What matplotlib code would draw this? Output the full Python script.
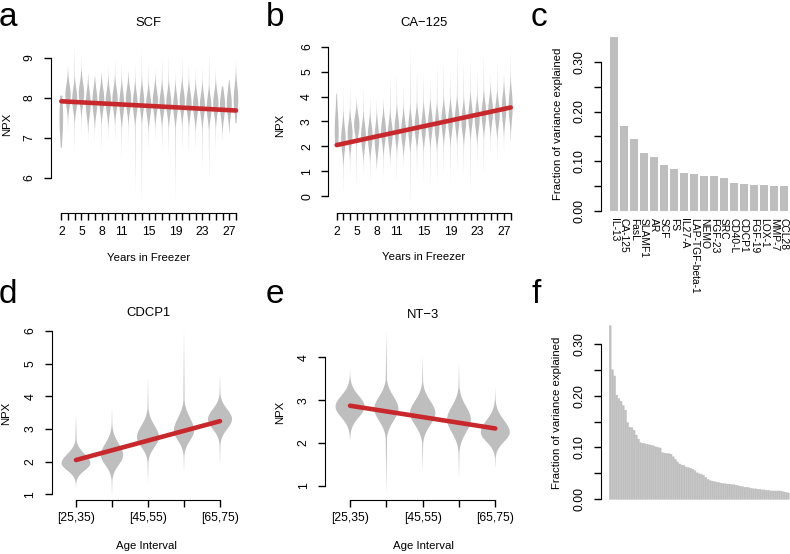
import numpy as np
import matplotlib
matplotlib.use("Agg")
import matplotlib.pyplot as plt

plt.rcParams["font.family"] = ["Liberation Sans", "DejaVu Sans"]

W, H = 790, 554
GREY = "#BEBEBE"
RED = "#C8282C"

# panel a / b: years in freezer (one violin per year)
years = list(range(2, 29))
years_labelled = [2, 5, 8, 11, 15, 19, 23, 27]

scf_centre = [7.5, 8.05, 7.95, 8.1, 7.85, 7.9, 7.95, 7.9, 7.95, 7.85, 7.95, 7.85, 7.9, 7.8,
              7.9, 7.85, 7.85, 7.8, 7.9, 7.85, 7.8, 7.8, 7.75, 7.85, 7.8, 7.85, 7.95]
scf_sd = [0.5, 0.27, 0.27, 0.27, 0.29, 0.29, 0.27, 0.27, 0.27, 0.29, 0.27, 0.27, 0.27, 0.27,
          0.27, 0.27, 0.27, 0.27, 0.27, 0.27, 0.27, 0.27, 0.27, 0.27, 0.29, 0.3, 0.33]
scf_low = [6.75, 7.11, 6.65, 7.07, 6.94, 6.90, 6.69, 6.94, 6.94, 6.48, 6.90, 5.61, 5.28, 6.69,
           6.94, 6.69, 6.57, 5.44, 6.69, 6.57, 6.69, 6.19, 5.94, 6.69, 6.94, 7.11, 7.36]
scf_high = [8.05, 8.78, 9.32, 9.07, 8.61, 8.53, 8.61, 8.82, 8.98, 8.86, 8.65, 8.86, 9.19, 8.86,
            8.69, 8.98, 9.03, 8.69, 9.03, 8.86, 8.78, 8.78, 9.19, 8.73, 8.28, 8.44, 8.94]
scf_fit = [7.91, 7.68]

ca125_centre = [2.6, 2.3, 2.5, 2.85, 2.4, 2.4, 2.3, 2.6, 2.5, 2.7, 2.6, 2.7, 2.8, 2.8,
                2.9, 2.8, 3.0, 3.0, 3.1, 3.0, 3.2, 3.1, 3.3, 3.4, 3.3, 3.5, 3.6]
ca125_sd = [0.8, 0.5, 0.45, 0.4, 0.45, 0.45, 0.5, 0.45, 0.45, 0.45, 0.45, 0.45, 0.45, 0.45,
            0.45, 0.45, 0.45, 0.45, 0.45, 0.45, 0.45, 0.45, 0.45, 0.45, 0.45, 0.5, 0.55]
ca125_low = [2.05, 0.17, 0.84, 0.37, 0.84, 0.58, 1.11, 0.64, 1.11, 0.58, 1.11, -0.36, 0.71, 0.58,
             0.44, 0.58, 0.84, 0.58, 0.98, 0.84, 0.17, 1.25, 0.84, 1.65, 1.38, 1.78, 2.18]
ca125_high = [4.12, 4.33, 4.53, 4.06, 4.39, 4.12, 3.92, 4.06, 4.93, 4.93, 4.46, 5.93, 5.13, 5.0,
              4.73, 5.26, 5.4, 5.13, 6.13, 5.4, 5.53, 5.13, 5.73, 4.93, 5.4, 4.86, 5.93]
ca125_fit = [2.05, 3.56]

# panel c: top proteins
c_names = ["IL-13", "CA-125", "FasL", "SLAMF1", "AR", "SCF", "FS", "IL27-A", "LAP-TGF-beta-1",
           "NEMO", "FGF-23", "SRC", "CD40-L", "CDCP1", "FGF-19", "LOX-1", "MMP-7", "CCL28"]
c_values = [0.350, 0.171, 0.145, 0.116, 0.108, 0.092, 0.084, 0.077, 0.075,
            0.069, 0.069, 0.065, 0.056, 0.054, 0.052, 0.051, 0.049, 0.049]

# panel d / e: age intervals
age_labels = ["[25,35)", "", "[45,55)", "", "[65,75)"]

cdcp1_centre = [1.95, 2.2, 2.75, 2.95, 3.3]
cdcp1_sd_dn = [0.22, 0.3, 0.3, 0.3, 0.3]
cdcp1_sd_up = [0.28, 0.35, 0.35, 0.38, 0.3]
cdcp1_low = [1.18, 0.93, 1.34, 1.64, 1.9]
cdcp1_high = [3.43, 3.68, 4.55, 6.03, 4.65]
cdcp1_fit = [2.05, 3.24]

nt3_centre = [2.85, 2.8, 2.7, 2.55, 2.25]
nt3_sd_dn = [0.25, 0.28, 0.28, 0.3, 0.22]
nt3_sd_up = [0.25, 0.28, 0.28, 0.3, 0.28]
nt3_low = [2.07, 0.83, 1.37, 1.17, 1.41]
nt3_high = [3.70, 4.60, 4.02, 3.87, 3.28]
nt3_fit = [2.87, 2.34]

# panel f: all proteins, sorted
f_values = [0.335, 0.250, 0.238, 0.201, 0.194, 0.189, 0.181, 0.172, 0.148, 0.139,
            0.138, 0.133, 0.124, 0.116, 0.109, 0.108, 0.107, 0.106, 0.105, 0.104,
            0.103, 0.101, 0.100, 0.099, 0.090, 0.089, 0.088, 0.088, 0.087, 0.082,
            0.077, 0.072, 0.068, 0.066, 0.065, 0.062, 0.061, 0.060, 0.058,
            0.055, 0.051, 0.049, 0.048, 0.046, 0.042, 0.038, 0.036, 0.035, 0.034,
            0.033, 0.032, 0.031, 0.030, 0.030, 0.029, 0.029, 0.028, 0.028, 0.027,
            0.026, 0.025, 0.024, 0.023, 0.023, 0.022, 0.021, 0.020, 0.020, 0.019,
            0.019, 0.018, 0.018, 0.017, 0.017, 0.016, 0.016, 0.016, 0.016, 0.016,
            0.015, 0.014, 0.013, 0.012]

fig = plt.figure(figsize=(W / 100, H / 100), dpi=100)

TICK_FS = 8.8
LAB_FS = 8.2
TITLE_FS = 9.4


def add_axes_px(left, right, top, bottom):
    return fig.add_axes([left / W, 1 - bottom / H, (right - left) / W, (bottom - top) / H])


def fx(x):
    return x / W


def fy(y):
    return 1 - y / H


def r_style(ax):
    for s in ("top", "right"):
        ax.spines[s].set_visible(False)
    ax.tick_params(length=5, width=1, labelsize=TICK_FS, pad=4)
    ax.tick_params(axis="y", pad=6)
    ax.patch.set_visible(False)


def labels(ax, title=None, title_xy=None, xlabel=None, xlabel_xy=None, ylabel=None, ylabel_xy=None):
    if title:
        fig.text(fx(title_xy[0]), fy(title_xy[1]), title, fontsize=TITLE_FS, ha="center", va="center")
    if xlabel:
        ax.set_xlabel(xlabel, fontsize=LAB_FS)
        ax.xaxis.set_label_coords(fx(xlabel_xy[0]), fy(xlabel_xy[1]), transform=fig.transFigure)
        ax.xaxis.label.set_va("center")
    if ylabel:
        ax.set_ylabel(ylabel, fontsize=LAB_FS)
        ax.yaxis.set_label_coords(fx(ylabel_xy[0]), fy(ylabel_xy[1]), transform=fig.transFigure)
        ax.yaxis.label.set_va("center")


def violin_stats(centre, sd_dn, sd_up, low, high, tail):
    y = np.linspace(low, high, 300)
    z = np.where(y < centre, (y - centre) / sd_dn, (y - centre) / sd_up)
    core = np.exp(-0.5 * z ** 2)
    frac = np.where(y < centre, (centre - y) / max(centre - low, 1e-6),
                    (y - centre) / max(high - centre, 1e-6))
    dens = np.maximum(core, tail * np.clip(1 - frac, 0, 1))
    dens = dens / np.trapezoid(dens, y)
    return dict(coords=y, vals=dens, mean=centre, median=centre, min=low, max=high)


def draw_violins(ax, centre, sd_dn, sd_up, low, high, width, tail=0.08):
    stats = [violin_stats(c, a, b, lo, hi, tail) for c, a, b, lo, hi in zip(centre, sd_dn, sd_up, low, high)]
    peaks = [s["vals"].max() for s in stats]
    widths = [width * p / max(peaks) for p in peaks]
    parts = ax.violin(stats, positions=np.arange(1, len(stats) + 1), widths=widths,
                      showmeans=False, showextrema=False, showmedians=False)
    for body in parts["bodies"]:
        body.set_facecolor(GREY)
        body.set_edgecolor("none")
        body.set_alpha(1)


def y_ticks_rot(ax, ticks, labs):
    ax.set_yticks(ticks, labs, rotation=90, va="center")


# ---------- a ----------
ax = add_axes_px(50.7, 246.6, 34.9, 213.3)
draw_violins(ax, scf_centre, scf_sd, scf_sd, scf_low, scf_high, 0.8, tail=0.14)
ax.plot([1, len(years)], scf_fit, color=RED, lw=3.3, solid_capstyle="round")
ax.set_xlim(-0.58, 28.58)
ax.set_ylim(5.11, 9.57)
r_style(ax)
ax.set_xticks(np.arange(1, len(years) + 1),
              [str(y) if y in years_labelled else "" for y in years])
y_ticks_rot(ax, [6, 7, 8, 9], ["6", "7", "8", "9"])
ax.spines["left"].set_bounds(6, 9)
ax.spines["bottom"].set_bounds(1, len(years))
labels(ax, "SCF", (148.6, 23), "Years in Freezer", (148.6, 257.7), "NPX", (7, 124))

# ---------- b ----------
ax = add_axes_px(328.3, 519.1, 36, 213.3)
draw_violins(ax, ca125_centre, ca125_sd, ca125_sd, ca125_low, ca125_high, 0.8, tail=0.14)
ax.plot([1, len(years)], ca125_fit, color=RED, lw=3.3, solid_capstyle="round")
ax.set_xlim(-0.256, 28.256)
ax.set_ylim(-0.69, 6.43)
r_style(ax)
ax.set_xticks(np.arange(1, len(years) + 1),
              [str(y) if y in years_labelled else "" for y in years])
y_ticks_rot(ax, range(7), [str(v) for v in range(7)])
ax.spines["left"].set_bounds(0, 6)
ax.spines["bottom"].set_bounds(1, len(years))
labels(ax, "CA\u2212125", (423.7, 23), "Years in Freezer", (423.7, 257.3), "NPX", (280, 125))

# ---------- c ----------
ax = add_axes_px(600.7, 790, 30.3, 217.6)
c_pos = np.arange(len(c_values)) * 1.2 + 0.7
ax.bar(c_pos, c_values, width=1.0, color=GREY, linewidth=0)
ax.set_xlim(-0.864, 21.86)
ax.set_ylim(-0.014, 0.364)
r_style(ax)
ax.spines["bottom"].set_visible(False)
ax.set_xticks(c_pos, c_names, rotation=270, fontsize=7.4)
ax.tick_params(axis="x", length=0, pad=0.5)
frac_ticks = [0, 0.05, 0.10, 0.15, 0.20, 0.25, 0.30]
y_ticks_rot(ax, frac_ticks, ["0.00", "", "0.10", "", "0.20", "", "0.30"])
ax.spines["left"].set_bounds(0, 0.30)
labels(ax, ylabel="Fraction of variance explained", ylabel_xy=(558, 124))

# ---------- d ----------
ax = add_axes_px(51.7, 245.2, 325.4, 500)
draw_violins(ax, cdcp1_centre, cdcp1_sd_dn, cdcp1_sd_up, cdcp1_low, cdcp1_high, 0.8)
ax.plot([1, len(age_labels)], cdcp1_fit, color=RED, lw=3.3, solid_capstyle="round")
ax.set_xlim(0.325, 5.7)
ax.set_ylim(0.826, 6.17)
r_style(ax)
ax.set_xticks(np.arange(1, len(age_labels) + 1), age_labels)
y_ticks_rot(ax, range(1, 7), [str(v) for v in range(1, 7)])
ax.spines["left"].set_bounds(1, 6)
ax.spines["bottom"].set_bounds(1, len(age_labels))
labels(ax, "CDCP1", (148.4, 313), "Age Interval", (146, 546), "NPX", (6, 413))

# ---------- e ----------
ax = add_axes_px(325, 520.7, 325, 500)
draw_violins(ax, nt3_centre, nt3_sd_dn, nt3_sd_up, nt3_low, nt3_high, 0.8)
ax.plot([1, len(age_labels)], nt3_fit, color=RED, lw=3.3, solid_capstyle="round")
ax.set_xlim(0.31, 5.7)
ax.set_ylim(0.674, 4.75)
r_style(ax)
ax.set_xticks(np.arange(1, len(age_labels) + 1), age_labels)
y_ticks_rot(ax, range(1, 5), [str(v) for v in range(1, 5)])
ax.spines["left"].set_bounds(1, 4)
ax.spines["bottom"].set_bounds(1, len(age_labels))
labels(ax, "NT\u22123", (423, 315), "Age Interval", (423, 546), "NPX", (280, 412))

# ---------- f ----------
ax = add_axes_px(601, 790, 319, 506.2)
f_pos = np.arange(len(f_values)) * 1.2 + 0.7
ax.bar(f_pos, f_values, width=1.0, color=GREY, edgecolor=GREY, linewidth=0.35, snap=False)
ax.set_xlim(-4.4, 100)
ax.set_ylim(-0.0134, 0.348)
r_style(ax)
ax.spines["bottom"].set_visible(False)
ax.set_xticks([])
y_ticks_rot(ax, frac_ticks, ["0.00", "", "0.10", "", "0.20", "", "0.30"])
ax.spines["left"].set_bounds(0, 0.30)
labels(ax, ylabel="Fraction of variance explained", ylabel_xy=(557, 413))

# panel letters
for letter, x, y in [("a", -1, 26), ("b", 266, 26), ("c", 531, 26),
                     ("d", -1, 303), ("e", 266, 303), ("f", 532, 303)]:
    fig.text(fx(x), fy(y), letter, fontsize=24, ha="left", va="baseline")

fig.savefig("out.png", dpi=100)
